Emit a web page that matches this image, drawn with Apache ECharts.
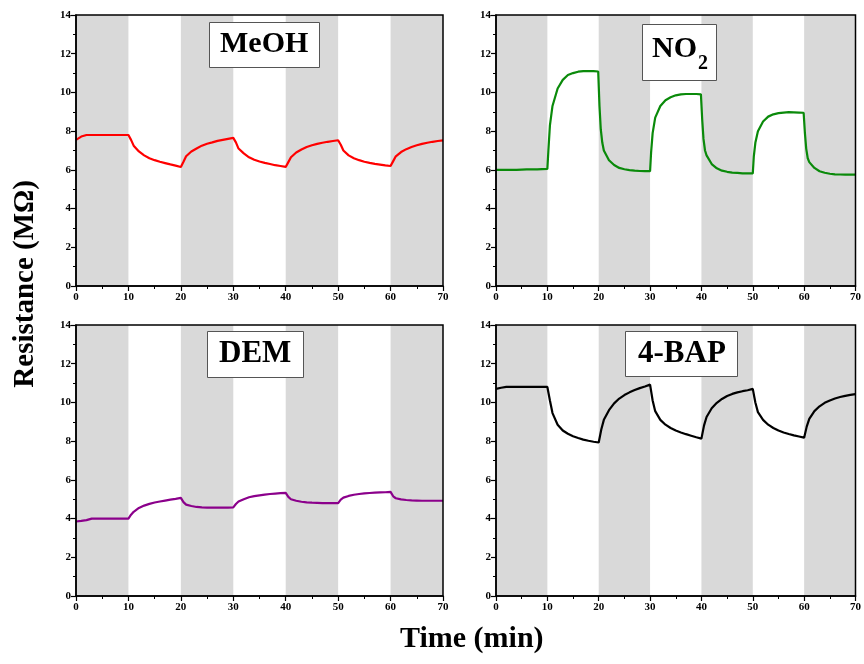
<!DOCTYPE html>
<html><head><meta charset="utf-8">
<script src="https://cdn.jsdelivr.net/npm/echarts@6/dist/echarts.min.js"></script>
<style>html,body{margin:0;padding:0;background:#fff}#c{width:864px;height:664px}</style>
</head><body><div id="c"></div>
<script>
// Gray exposure bands (min)
const bands = [[0,10],[20,30],[40,50],[60,70]];
const xTicks = [0,10,20,30,40,50,60,70];
const yTicks = [0,2,4,6,8,10,12,14];

const meohT = [0,1,2,3,4,5,6,7,8,9,10,10.5,11,12,13,14,15,16,17,18,19,20,20.5,21,22,23,24,25,26,27,28,29,30,30.5,31,32,33,34,35,36,37,38,39,40,40.5,41,42,43,44,45,46,47,48,49,50,50.5,51,52,53,54,55,56,57,58,59,60,60.5,61,62,63,64,65,66,67,68,69,70];
const meohR = [7.55,7.72,7.8,7.8,7.8,7.8,7.8,7.8,7.8,7.8,7.8,7.55,7.25,6.95,6.75,6.6,6.5,6.42,6.35,6.28,6.22,6.15,6.42,6.7,6.95,7.1,7.25,7.35,7.42,7.5,7.55,7.6,7.65,7.42,7.1,6.85,6.65,6.52,6.43,6.36,6.3,6.24,6.2,6.15,6.4,6.65,6.9,7.05,7.18,7.27,7.34,7.4,7.45,7.49,7.53,7.3,7.0,6.75,6.6,6.5,6.42,6.36,6.31,6.27,6.23,6.2,6.45,6.7,6.92,7.07,7.18,7.27,7.34,7.4,7.45,7.49,7.52];

const no2T = [0,2,4,6,8,10,10.2,10.5,11,12,13,14,15,16,17,18,19,19.9,20.15,20.4,20.7,21,22,23,24,25,26,27,28,29,30,30.2,30.5,31,32,33,34,35,36,37,38,39,39.9,40.15,40.4,40.7,41,42,43,44,45,46,47,48,49,50,50.2,50.5,51,52,53,54,55,56,57,58,59,59.9,60.15,60.4,60.7,61,62,63,64,65,66,67,68,69,70];
const no2R = [6.0,6.0,6.0,6.02,6.03,6.05,7.0,8.3,9.3,10.2,10.65,10.9,11.0,11.07,11.1,11.1,11.1,11.08,9.3,8.1,7.4,7.0,6.5,6.25,6.1,6.03,5.99,5.96,5.94,5.93,5.93,6.9,7.9,8.7,9.3,9.6,9.75,9.85,9.9,9.92,9.92,9.92,9.9,8.6,7.6,7.0,6.75,6.3,6.08,5.96,5.9,5.86,5.84,5.82,5.82,5.82,6.7,7.4,8.0,8.5,8.75,8.87,8.93,8.96,8.98,8.97,8.96,8.95,7.9,7.1,6.6,6.4,6.1,5.93,5.85,5.8,5.77,5.76,5.75,5.75,5.75];

const demT = [0,1,2,3,4,5,6,7,8,9,10,10.5,11,12,13,14,15,16,17,18,19,20,20.5,21,22,23,24,25,26,27,28,29,30,30.5,31,32,33,34,35,36,37,38,39,40,40.5,41,42,43,44,45,46,47,48,49,50,50.5,51,52,53,54,55,56,57,58,59,60,60.5,61,62,63,64,65,66,67,68,69,70];
const demR = [3.85,3.88,3.92,4.0,4.0,4.0,4.0,4.0,4.0,4.0,4.0,4.2,4.35,4.55,4.67,4.76,4.83,4.88,4.93,4.98,5.02,5.07,4.85,4.72,4.65,4.6,4.58,4.57,4.57,4.57,4.57,4.57,4.58,4.75,4.88,5.0,5.1,5.16,5.2,5.24,5.27,5.29,5.31,5.33,5.12,5.0,4.92,4.87,4.84,4.82,4.81,4.8,4.8,4.8,4.8,4.98,5.08,5.17,5.23,5.27,5.3,5.32,5.34,5.35,5.36,5.38,5.15,5.05,4.99,4.96,4.94,4.93,4.92,4.92,4.92,4.92,4.92];

const bapT = meohT;
const bapR = [10.7,10.76,10.8,10.8,10.8,10.8,10.8,10.8,10.8,10.8,10.8,10.1,9.45,8.85,8.55,8.38,8.25,8.16,8.08,8.02,7.97,7.93,8.6,9.1,9.6,9.95,10.2,10.38,10.52,10.64,10.74,10.82,10.92,10.1,9.55,9.1,8.85,8.68,8.55,8.45,8.36,8.28,8.2,8.13,8.8,9.25,9.7,9.98,10.18,10.33,10.44,10.52,10.58,10.63,10.7,10.0,9.5,9.1,8.85,8.68,8.55,8.45,8.37,8.3,8.24,8.18,8.75,9.15,9.55,9.8,9.98,10.1,10.2,10.28,10.34,10.39,10.43];

const panels = [
  {name:'MeOH', t:meohT, r:meohR, color:'#ff0000'},
  {name:'NO2', t:no2T, r:no2R, color:'#0a8a0a'},
  {name:'DEM', t:demT, r:demR, color:'#8b008b'},
  {name:'4-BAP', t:bapT, r:bapR, color:'#000000'}
];

const font = 'Liberation Serif';
const grids = [
  {left:76, top:15, width:367, height:271},
  {left:496, top:15, width:366, height:271},
  {left:76, top:325, width:367, height:271},
  {left:496, top:325, width:366, height:271}
];
const boxes = [
  {left:209, top:22, text:'MeOH', size:30, pad:[7,11,9,11]},
  {left:642, top:24, text:'{a|NO}{b|2}', size:30, pad:[10,9,7,10]},
  {left:207, top:331, text:'DEM', size:31, pad:[7,12,9,12]},
  {left:625, top:331, text:'4-BAP', size:31, pad:[7,12,8,13]}
];

const option = {
  animation:false,
  backgroundColor:'#fff',
  grid: grids.map(g => Object.assign({show:true, z:10, borderColor:'#000', borderWidth:1.5, backgroundColor:'transparent'}, g)),
  xAxis: grids.map((g,i) => ({
    type:'value', gridIndex:i, min:0, max:70, interval:10, z:10,
    axisLine:{show:true, lineStyle:{color:'#000', width:1.5}},
    axisTick:{show:true, length:5, lineStyle:{color:'#000', width:1.2}},
    minorTick:{show:true, splitNumber:2, length:3, lineStyle:{color:'#000', width:1}},
    splitLine:{show:false},
    axisLabel:{color:'#000', fontFamily:font, fontWeight:'bold', fontSize:11, margin:6}
  })),
  yAxis: grids.map((g,i) => ({
    type:'value', gridIndex:i, min:0, max:14, interval:2, z:10,
    axisLine:{show:true, lineStyle:{color:'#000', width:1.5}},
    axisTick:{show:true, length:5, lineStyle:{color:'#000', width:1.2}},
    minorTick:{show:true, splitNumber:2, length:3, lineStyle:{color:'#000', width:1}},
    splitLine:{show:false},
    axisLabel:{color:'#000', fontFamily:font, fontWeight:'bold', fontSize:11, margin:5}
  })),
  title: boxes.map(b => ({
    text:b.text, left:b.left, top:b.top, padding:b.pad,
    borderColor:'#555', borderWidth:1, backgroundColor:'#fff',
    textStyle:{fontFamily:font, fontWeight:'bold', fontSize:b.size, color:'#000',
      rich:{
        a:{fontFamily:font, fontWeight:'bold', fontSize:30, color:'#000', lineHeight:34, verticalAlign:'top'},
        b:{fontFamily:font, fontWeight:'bold', fontSize:20, color:'#000', lineHeight:20, verticalAlign:'top', padding:[20,0,0,1]}
      }}
  })),
  graphic:[
    {type:'text', left:11, top:180, rotation:Math.PI/2,
      style:{text:'Resistance (MΩ)', font:'bold 29px "Liberation Serif"', fill:'#000'}},
    {type:'text', left:400, top:624,
      style:{text:'Time (min)', font:'bold 30px "Liberation Serif"', fill:'#000'}}
  ],
  series: panels.map((p,i) => ({
    type:'line', xAxisIndex:i, yAxisIndex:i, name:p.name,
    data:p.t.map((t,k)=>[t,p.r[k]]),
    showSymbol:false, smooth:false,
    lineStyle:{color:p.color, width:2.2},
    markArea:{silent:true, itemStyle:{color:'#d9d9d9', opacity:1},
      data:bands.map(b=>[{xAxis:b[0]},{xAxis:b[1]}])}
  }))
};
const chart = echarts.init(document.getElementById('c'), null, {renderer:'canvas'});
chart.setOption(option);
</script>
</body></html>
